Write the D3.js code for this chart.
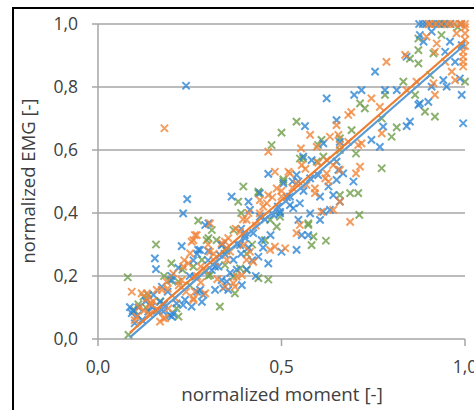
<!DOCTYPE html>
<html>
<head>
<meta charset="utf-8">
<script src="https://d3js.org/d3.v7.min.js"></script>
<style>
  body { margin: 0; background: #fff; }
  svg { display: block; font-family: "Open Sans", Lato, sans-serif; }
</style>
</head>
<body>
<svg id="chart" width="474" height="410"></svg>
<script>
// values (normalized moment, normalized EMG)
const blue = [
  [0.087,0.101],[0.092,0.082],[0.095,0.09],[0.1,0.05],[0.108,0.075],[0.11,0.1],[0.12,0.06],[0.13,0.12],
  [0.137,0.087],[0.146,0.103],[0.151,0.14],[0.155,0.256],[0.158,0.222],[0.16,0.09],[0.169,0.118],
  [0.174,0.166],[0.178,0.087],[0.18,0.11],[0.19,0.15],[0.196,0.076],[0.2,0.2],[0.201,0.187],[0.201,0.071],
  [0.205,0.08],[0.214,0.113],[0.219,0.226],[0.228,0.295],[0.232,0.399],[0.232,0.108],[0.237,0.124],
  [0.24,0.804],[0.243,0.444],[0.25,0.2],[0.255,0.103],[0.26,0.25],[0.264,0.198],[0.27,0.27],[0.27,0.15],
  [0.273,0.283],[0.278,0.283],[0.278,0.156],[0.283,0.118],[0.287,0.14],[0.292,0.362],[0.3,0.25],
  [0.3,0.28],[0.301,0.367],[0.31,0.219],[0.319,0.156],[0.319,0.23],[0.328,0.23],[0.332,0.267],
  [0.337,0.187],[0.337,0.298],[0.34,0.3],[0.341,0.161],[0.345,0.27],[0.351,0.182],[0.355,0.156],
  [0.36,0.21],[0.364,0.452],[0.369,0.251],[0.378,0.22],[0.38,0.3],[0.387,0.298],[0.39,0.35],[0.39,0.27],
  [0.392,0.171],[0.4,0.33],[0.401,0.32],[0.405,0.22],[0.41,0.29],[0.41,0.436],[0.414,0.41],[0.42,0.25],
  [0.423,0.336],[0.43,0.2],[0.437,0.261],[0.441,0.463],[0.441,0.388],[0.446,0.314],[0.45,0.29],
  [0.455,0.38],[0.464,0.24],[0.464,0.524],[0.47,0.33],[0.478,0.394],[0.49,0.42],[0.496,0.399],
  [0.496,0.404],[0.5,0.277],[0.505,0.494],[0.515,0.45],[0.523,0.425],[0.523,0.452],[0.53,0.5],
  [0.532,0.415],[0.541,0.283],[0.541,0.521],[0.546,0.378],[0.546,0.5],[0.55,0.431],[0.555,0.33],
  [0.559,0.579],[0.56,0.47],[0.564,0.676],[0.573,0.33],[0.578,0.399],[0.578,0.51],[0.582,0.568],
  [0.6,0.52],[0.605,0.452],[0.605,0.378],[0.614,0.404],[0.614,0.621],[0.623,0.764],[0.628,0.484],
  [0.632,0.41],[0.641,0.457],[0.65,0.695],[0.65,0.563],[0.65,0.505],[0.655,0.537],[0.659,0.626],
  [0.659,0.436],[0.668,0.526],[0.696,0.5],[0.698,0.775],[0.718,0.79],[0.745,0.632],[0.755,0.849],
  [0.768,0.61],[0.777,0.674],[0.782,0.79],[0.814,0.79],[0.841,0.896],[0.841,0.676],[0.85,0.69],
  [0.873,0.743],[0.877,0.965],[0.877,0.748],[0.887,0.944],[0.9,0.753],[0.909,0.976],[0.909,0.801],
  [0.941,0.822],[0.946,0.912],[0.95,0.801],[0.959,0.944],[0.973,0.88],[0.986,0.827],[0.991,0.933],
  [0.991,0.775],[0.995,0.685],[0.875,1.0],[0.885,1.0],[0.895,1.0],[0.91,1.0],[0.93,1.0],[0.945,1.0],
  [0.96,1.0],[0.99,1.0]
];
const orange = [
  [0.092,0.15],[0.1,0.06],[0.105,0.071],[0.112,0.1],[0.119,0.145],[0.125,0.09],[0.133,0.129],
  [0.133,0.145],[0.14,0.08],[0.142,0.113],[0.145,0.11],[0.15,0.12],[0.16,0.156],[0.164,0.092],
  [0.169,0.055],[0.174,0.156],[0.178,0.066],[0.181,0.669],[0.183,0.066],[0.187,0.182],[0.19,0.16],
  [0.192,0.097],[0.205,0.208],[0.21,0.13],[0.22,0.17],[0.228,0.187],[0.232,0.23],[0.235,0.25],
  [0.24,0.15],[0.246,0.24],[0.251,0.272],[0.255,0.309],[0.26,0.129],[0.26,0.314],[0.26,0.124],
  [0.264,0.33],[0.264,0.15],[0.269,0.33],[0.27,0.2],[0.28,0.23],[0.28,0.18],[0.292,0.145],[0.292,0.219],
  [0.3,0.3],[0.305,0.367],[0.305,0.277],[0.315,0.27],[0.319,0.245],[0.325,0.19],[0.337,0.304],
  [0.346,0.166],[0.346,0.309],[0.351,0.251],[0.355,0.32],[0.36,0.277],[0.369,0.177],[0.373,0.166],
  [0.375,0.35],[0.378,0.198],[0.387,0.341],[0.392,0.203],[0.395,0.38],[0.396,0.298],[0.405,0.251],
  [0.405,0.378],[0.41,0.4],[0.414,0.277],[0.423,0.245],[0.43,0.36],[0.441,0.399],[0.441,0.441],
  [0.45,0.42],[0.46,0.431],[0.464,0.457],[0.464,0.595],[0.469,0.283],[0.475,0.45],[0.482,0.293],
  [0.482,0.531],[0.487,0.478],[0.5,0.47],[0.5,0.452],[0.51,0.288],[0.519,0.531],[0.523,0.526],
  [0.53,0.48],[0.541,0.494],[0.541,0.336],[0.55,0.362],[0.553,0.605],[0.555,0.552],[0.565,0.54],
  [0.568,0.489],[0.578,0.648],[0.591,0.478],[0.591,0.463],[0.596,0.61],[0.6,0.56],[0.609,0.404],
  [0.619,0.51],[0.623,0.526],[0.623,0.568],[0.628,0.5],[0.632,0.642],[0.641,0.41],[0.641,0.552],
  [0.65,0.679],[0.655,0.648],[0.659,0.436],[0.659,0.616],[0.659,0.537],[0.682,0.711],[0.682,0.626],
  [0.687,0.372],[0.69,0.72],[0.703,0.526],[0.709,0.616],[0.714,0.547],[0.718,0.621],[0.745,0.764],
  [0.768,0.737],[0.773,0.653],[0.786,0.88],[0.837,0.902],[0.841,0.79],[0.868,0.817],[0.895,0.96],
  [0.914,0.812],[0.918,0.912],[0.918,0.775],[0.923,0.938],[0.946,0.88],[0.964,0.849],[0.973,0.822],
  [0.977,0.97],[0.995,0.912],[0.995,0.896],[0.995,0.88],[0.995,0.865],[1.0,0.99],[1.0,0.97],
  [1.0,0.95],[1.0,0.93],[0.9,1.0],[0.905,1.0],[0.92,1.0],[0.935,1.0],[0.95,1.0],[0.96,1.0],[0.97,1.0],
  [0.985,1.0],[0.99,1.0],[1.0,1.0]
];
const green = [
  [0.081,0.196],[0.083,0.013],[0.1,0.09],[0.11,0.11],[0.124,0.134],[0.13,0.1],[0.137,0.14],
  [0.158,0.30],[0.17,0.12],[0.18,0.2],[0.196,0.187],[0.2,0.24],[0.214,0.097],[0.219,0.071],
  [0.219,0.182],[0.23,0.22],[0.25,0.17],[0.26,0.23],[0.273,0.376],[0.283,0.251],[0.296,0.314],
  [0.3,0.2],[0.301,0.32],[0.305,0.203],[0.31,0.346],[0.323,0.314],[0.332,0.103],[0.346,0.235],
  [0.35,0.28],[0.369,0.346],[0.369,0.198],[0.373,0.145],[0.382,0.436],[0.387,0.224],[0.39,0.4],
  [0.396,0.484],[0.405,0.219],[0.405,0.27],[0.42,0.3],[0.437,0.463],[0.437,0.468],[0.437,0.193],
  [0.455,0.314],[0.464,0.189],[0.469,0.378],[0.473,0.616],[0.487,0.357],[0.496,0.388],[0.5,0.655],
  [0.505,0.507],[0.505,0.5],[0.541,0.69],[0.55,0.573],[0.559,0.573],[0.573,0.362],[0.573,0.367],
  [0.582,0.298],[0.587,0.325],[0.596,0.563],[0.6,0.616],[0.609,0.632],[0.614,0.579],[0.621,0.312],
  [0.659,0.457],[0.659,0.6],[0.659,0.637],[0.687,0.463],[0.691,0.663],[0.703,0.589],[0.709,0.463],
  [0.712,0.394],[0.714,0.748],[0.727,0.732],[0.773,0.7],[0.773,0.542],[0.782,0.775],[0.8,0.642],
  [0.814,0.672],[0.832,0.817],[0.85,0.89],[0.864,0.775],[0.873,0.954],[0.873,0.917],[0.873,0.875],
  [0.891,0.722],[0.905,0.838],[0.914,0.907],[0.918,0.706],[0.936,0.965],[1.0,0.817],[0.92,1.0],
  [0.94,1.0],[0.96,1.0],[0.98,0.99]
];
// linear trendlines (start/end), blue and orange
const trendBlue = [[0.087,0.005],[1.0,0.935]];
const trendOrange = [[0.087,0.02],[1.0,0.95]];
const xTicks = [0, 0.5, 1];
const yTicks = [0, 0.2, 0.4, 0.6, 0.8, 1];

const svg = d3.select("#chart");
const x = d3.scaleLinear().domain([0, 1]).range([98, 465]);
const y = d3.scaleLinear().domain([0, 1]).range([339, 24]);
const fmt = d => d3.format(".1f")(d).replace(".", ",");

// outer frame
svg.append("rect").attr("x", 13).attr("y", 8).attr("width", 480).attr("height", 420)
  .attr("fill", "none").attr("stroke", "#000").attr("stroke-width", 2);

// horizontal grid + y ticks
svg.append("g").selectAll("line").data(yTicks).enter().append("line")
  .attr("x1", 92).attr("x2", x(1))
  .attr("y1", d => y(d)).attr("y2", d => y(d))
  .attr("stroke", "#a6a6a6").attr("stroke-width", 1.5);

// y axis line
svg.append("line").attr("x1", x(0)).attr("x2", x(0)).attr("y1", y(1)).attr("y2", y(0) + 7)
  .attr("stroke", "#a6a6a6").attr("stroke-width", 1.5);
// x ticks
svg.append("g").selectAll("line").data(xTicks.slice(1)).enter().append("line")
  .attr("x1", d => x(d)).attr("x2", d => x(d)).attr("y1", y(0)).attr("y2", y(0) + 7)
  .attr("stroke", "#a6a6a6").attr("stroke-width", 1.5);

svg.append("g").selectAll("text").data(yTicks).enter().append("text")
  .attr("x", 78).attr("y", d => y(d) + 6)
  .attr("text-anchor", "end").attr("font-size", 17.5).attr("fill", "#404040")
  .text(fmt);
svg.append("g").selectAll("text").data(xTicks).enter().append("text")
  .attr("x", d => x(d)).attr("y", 373)
  .attr("text-anchor", "middle").attr("font-size", 17.5).attr("fill", "#404040")
  .text(fmt);

svg.append("text").attr("x", 282).attr("y", 401).attr("text-anchor", "middle")
  .attr("font-size", 18.8).attr("fill", "#404040").text("normalized moment [-]");
svg.append("text").attr("transform", "translate(35,181) rotate(-90)").attr("text-anchor", "middle")
  .attr("font-size", 18.5).attr("fill", "#404040").text("normalized EMG [-]");

// markers
const cross = d3.symbol().type(d3.symbolX).size(36);
const series = [
  { data: green, color: "#6f9e4a" },
  { data: blue, color: "#2e86d4" },
  { data: orange, color: "#f0843a" }
];
series.forEach(s => {
  svg.append("g").selectAll("path").data(s.data).enter().append("path")
    .attr("d", cross)
    .attr("transform", d => `translate(${x(d[0])},${y(d[1])})`)
    .attr("fill", "none").attr("stroke", s.color).attr("stroke-width", 2)
    .attr("stroke-opacity", 0.8);
});

// trendlines
const line = d3.line().x(d => x(d[0])).y(d => y(d[1]));
svg.append("path").datum(trendBlue).attr("d", line)
  .attr("fill", "none").attr("stroke", "#5b9bd5").attr("stroke-width", 2.2);
svg.append("path").datum(trendOrange).attr("d", line)
  .attr("fill", "none").attr("stroke", "#ed7d31").attr("stroke-width", 2.2);
</script>
</body>
</html>
